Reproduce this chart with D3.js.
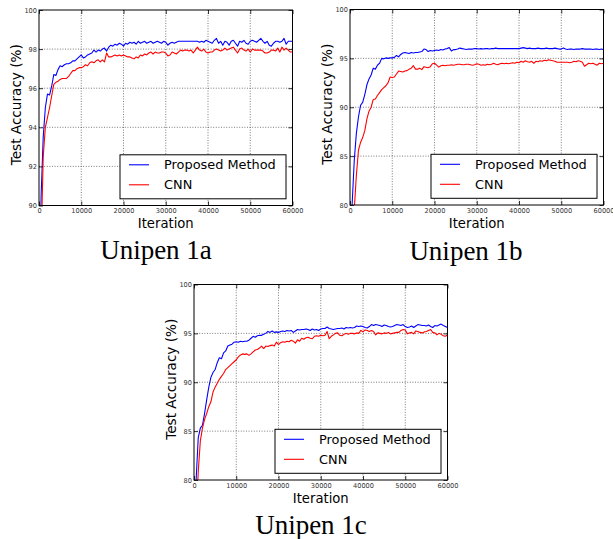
<!DOCTYPE html>
<html>
<head>
<meta charset="utf-8">
<script src="https://cdn.jsdelivr.net/npm/d3@7"></script>
<style>
  body { margin: 0; background: #fff; }
  svg { display: block; }
</style>
</head>
<body>
<script>
// iterations sampled every 500 steps
const iterations = d3.range(0, 60001, 500);

// Unipen 1a
const proposed1a = [84,90.5,93.5,95.0,95.7,95.65,96.1,96.7,96.65,96.95,97.15,97.1,97.2,97.25,97.25,97.3,97.4,97.4,97.5,97.6,
  97.7,97.55,97.6,97.7,97.75,97.8,97.95,97.85,97.95,97.9,98.0,98.05,97.9,98.1,98.2,98.15,98.25,98.2,98.3,98.25,
  98.15,98.3,98.25,98.35,98.3,98.35,98.25,98.4,98.3,98.35,98.4,98.3,98.35,98.4,98.3,98.35,98.4,98.35,98.3,98.4,
  98.35,98.2,98.3,98.35,98.3,98.35,98.4,98.4,98.4,98.4,98.4,98.4,98.4,98.4,98.4,98.4,98.35,98.4,98.35,98.45,
  98.4,98.35,98.3,98.45,98.55,98.3,98.4,98.2,98.4,98.35,98.2,98.4,98.45,98.3,98.15,98.4,98.35,98.45,98.3,98.25,
  98.4,98.45,98.4,98.35,98.45,98.55,98.4,98.3,98.4,98.2,98.15,98.3,98.4,98.4,98.35,98.4,98.55,98.25,98.4,98.4,98.4];
const cnn1a = [80,88,92.5,94.0,94.5,95.0,95.6,96.2,96.3,96.35,96.45,96.5,96.5,96.5,96.6,96.75,96.9,96.9,97.0,97.05,
  97.05,97.1,97.2,97.15,97.3,97.35,97.3,97.4,97.45,97.35,97.45,97.35,97.8,97.6,97.6,97.65,97.7,97.65,97.7,97.65,
  97.7,97.65,97.6,97.6,97.55,97.5,97.6,97.55,97.7,97.65,97.75,97.7,97.8,97.85,97.75,97.85,97.8,97.8,97.85,97.85,
  97.8,97.65,97.7,97.85,97.8,97.75,97.85,97.95,97.9,97.95,97.95,97.9,97.95,97.8,97.95,98.1,97.95,97.9,98.0,97.85,
  97.8,97.85,97.85,97.95,98.0,97.95,97.9,97.95,98.05,97.95,98.0,98.05,98.1,97.95,97.8,98.0,98.05,97.95,97.9,98.0,
  97.85,98.0,97.95,97.95,97.95,97.95,97.9,97.8,97.8,97.85,97.95,97.95,97.9,98.05,97.85,98.1,97.95,98.05,97.95,97.85,97.85];

// Unipen 1b
const proposed1b = [72,80,84.5,87.3,89.0,90.2,90.5,91.3,92.3,92.9,93.3,94.0,93.9,94.3,94.5,95.0,94.95,95.05,95.0,95.05,
  95.05,95.1,95.3,95.15,95.4,95.55,95.6,95.55,95.5,95.6,95.55,95.6,95.6,95.65,95.7,95.95,95.9,95.7,95.8,95.75,
  95.8,95.85,95.8,95.9,95.85,95.95,96.0,96.1,95.75,95.9,95.9,95.95,96.05,96.0,95.95,95.9,95.95,95.95,95.95,96.0,
  96.0,95.95,96.0,95.95,96.0,96.0,95.95,96.0,96.0,96.05,96.0,96.0,96.0,96.0,96.0,96.0,96.0,96.0,96.0,96.0,
  96.0,96.05,96.1,96.05,96.0,96.05,96.0,96.0,96.0,96.05,96.0,96.0,96.0,96.05,96.0,96.0,96.0,96.05,96.0,95.95,
  95.95,96.05,95.95,95.9,95.95,95.95,95.9,95.95,95.95,95.95,96.0,95.95,95.95,95.95,95.95,95.9,95.95,95.95,95.9,95.95,95.9];
const cnn1b = [70,74,79.5,83,85.6,86.4,86.9,87.6,88.8,89.6,90.0,90.8,90.85,91.2,91.5,91.8,92.0,92.2,92.5,93.1,
  93.05,93.1,93.4,93.7,93.65,93.6,93.7,93.75,93.9,94.0,94.25,93.9,93.9,94.0,93.85,94.15,94.1,94.05,94.15,94.45,
  94.5,94.3,94.1,94.25,94.3,94.25,94.3,94.3,94.35,94.3,94.35,94.4,94.4,94.35,94.35,94.4,94.4,94.35,94.3,94.35,
  94.45,94.4,94.3,94.35,94.3,94.4,94.35,94.4,94.5,94.4,94.35,94.45,94.5,94.45,94.5,94.45,94.5,94.55,94.5,94.6,
  94.55,94.7,94.6,94.75,94.65,94.6,94.7,94.5,94.7,94.65,94.75,94.7,94.8,94.75,94.85,94.8,94.75,94.7,94.6,94.6,
  94.6,94.6,94.6,94.6,94.55,94.6,94.7,94.65,94.75,94.7,94.6,94.2,94.35,94.5,94.45,94.5,94.4,94.3,94.5,94.45,94.5];

// Unipen 1c
const proposed1c = [74,80,84.3,85.3,85.6,86.8,88.2,89.5,90.5,91.0,91.3,92.0,92.5,92.4,93.0,93.2,93.7,93.8,93.9,94.1,
  94.15,94.1,94.2,94.15,94.2,94.2,94.3,94.5,94.7,94.6,94.75,94.8,94.8,94.9,95.0,95.2,95.1,95.25,95.1,95.15,
  95.1,95.2,95.25,95.2,95.3,95.25,95.3,95.1,95.25,95.4,95.35,95.4,95.4,95.45,95.4,95.3,95.45,95.35,95.4,95.3,
  95.45,95.5,95.5,95.65,95.5,95.45,95.4,95.45,95.5,95.5,95.55,95.45,95.6,95.55,95.6,95.55,95.6,95.75,95.7,95.75,
  95.7,95.6,95.55,95.7,95.9,95.8,95.9,95.85,95.8,95.7,95.85,95.8,95.7,95.65,95.7,95.8,95.9,95.85,95.8,95.9,
  95.7,95.6,95.65,95.75,95.6,95.75,95.9,95.85,95.8,95.8,95.75,95.85,95.7,95.6,95.8,95.75,95.85,95.95,95.8,95.7,95.6];
const cnn1c = [72,76,80.8,84,85.3,86.2,86.8,87.5,88.0,89.0,89.5,89.9,90.3,90.6,90.9,91.3,91.5,91.7,91.9,92.1,
  92.3,92.6,92.8,92.9,92.85,92.9,92.75,92.9,93.1,93.3,93.35,93.5,93.7,93.45,93.7,93.65,93.75,93.8,93.7,94.1,
  93.85,94.05,94.15,94.1,94.2,94.15,94.3,94.2,94.0,94.35,94.2,94.5,94.4,94.55,94.6,94.5,94.45,94.7,94.75,94.7,
  94.8,94.75,94.8,95.2,94.45,94.7,94.85,95.0,95.05,94.8,94.75,94.9,95.0,94.9,95.0,95.0,94.95,95.05,95.0,95.3,
  95.15,95.35,95.3,95.2,95.3,95.2,94.85,95.05,95.0,94.95,95.05,95.0,95.1,94.95,95.0,95.05,95.1,95.1,95.3,95.4,
  95.35,94.95,95.05,95.1,94.95,95.25,95.2,95.1,95.05,95.15,95.2,95.3,95.4,95.1,95.05,94.85,95.0,94.9,94.75,94.7,94.85];

const xTicks = [0, 10000, 20000, 30000, 40000, 50000, 60000];
const yTicks1a = [90, 92, 94, 96, 98, 100];
const yTicks1bc = [80, 85, 90, 95, 100];
const seriesNames = ["Proposed Method", "CNN"];
const seriesColors = ["#0000ff", "#ff0000"];

const panels = [
  { caption: "Unipen 1a", left: 39, top: 10, yDomain: [90, 100], yTicks: yTicks1a,
    series: [proposed1a, cnn1a], capX: 156, capY: 259 },
  { caption: "Unipen 1b", left: 350, top: 9.5, yDomain: [80, 100], yTicks: yTicks1bc,
    series: [proposed1b, cnn1b], capX: 466, capY: 260 },
  { caption: "Unipen 1c", left: 194, top: 284.5, yDomain: [80, 100], yTicks: yTicks1bc,
    series: [proposed1c, cnn1c], capX: 311, capY: 534 }
];

const W = 613, H = 539;
const pw = 253.5, ph = 195.5;

const svg = d3.select("body").append("svg")
  .attr("width", W).attr("height", H);

panels.forEach((p, pi) => {
  const g = svg.append("g").attr("transform", `translate(${p.left},${p.top})`);
  const x = d3.scaleLinear().domain([0, 60000]).range([0, pw]);
  const y = d3.scaleLinear().domain(p.yDomain).range([ph, 0]);

  g.append("clipPath").attr("id", "clip" + pi)
    .append("rect").attr("width", pw).attr("height", ph);

  // grille pointillée
  g.append("g").selectAll("line").data(xTicks.slice(1, -1)).join("line")
    .attr("x1", d => x(d)).attr("x2", d => x(d)).attr("y1", 0).attr("y2", ph)
    .attr("stroke", "#444").attr("stroke-width", 0.7).attr("stroke-dasharray", "1,1.6");
  g.append("g").selectAll("line").data(p.yTicks.slice(1, -1)).join("line")
    .attr("y1", d => y(d)).attr("y2", d => y(d)).attr("x1", 0).attr("x2", pw)
    .attr("stroke", "#444").attr("stroke-width", 0.7).attr("stroke-dasharray", "1,1.6");

  // courbes
  const line = d3.line().x((d, i) => x(iterations[i])).y(d => y(d));
  p.series.forEach((s, si) => {
    g.append("path").datum(s)
      .attr("clip-path", `url(#clip${pi})`)
      .attr("fill", "none").attr("stroke", seriesColors[si])
      .attr("stroke-width", 1.1).attr("stroke-linejoin", "round")
      .attr("d", line);
  });

  // axes (ticks vers l'intérieur)
  const tickFont = g => g.selectAll("text")
    .attr("font-family", "DejaVu Sans").attr("font-size", 6.6).attr("fill", "#333");
  const xa = g.append("g").attr("transform", `translate(0,${ph})`)
    .call(d3.axisBottom(x).tickValues(xTicks).tickFormat(d3.format("d")).tickSizeInner(-4).tickSizeOuter(0).tickPadding(3.2));
  xa.call(tickFont);
  const ya = g.append("g")
    .call(d3.axisLeft(y).tickValues(p.yTicks).tickFormat(d3.format("d")).tickSizeInner(-4).tickSizeOuter(0).tickPadding(2));
  ya.call(tickFont);
  g.append("g").attr("transform", `translate(${pw},0)`)
    .call(d3.axisRight(y).tickValues(p.yTicks).tickFormat("").tickSizeInner(-4).tickSizeOuter(0));
  g.append("g")
    .call(d3.axisTop(x).tickValues(xTicks).tickFormat("").tickSizeInner(-4).tickSizeOuter(0));
  g.selectAll(".domain").remove();
  g.selectAll(".tick line").attr("stroke", "#000").attr("stroke-width", 0.8);

  g.append("rect").attr("width", pw).attr("height", ph)
    .attr("fill", "none").attr("stroke", "#000").attr("stroke-width", 1);

  // légende
  const lg = g.append("g").attr("transform", `translate(${pw - 6.5 - 166},${ph - 6.7 - 44})`);
  lg.append("rect").attr("width", 166).attr("height", 44)
    .attr("fill", "#fff").attr("stroke", "#000").attr("stroke-width", 1);
  seriesNames.forEach((n, i) => {
    const yy = 10 + i * 20;
    lg.append("line").attr("x1", 9).attr("x2", 29).attr("y1", yy).attr("y2", yy)
      .attr("stroke", seriesColors[i]).attr("stroke-width", 1.1);
    lg.append("text").attr("x", 44).attr("y", yy).attr("dy", "0.36em")
      .attr("font-family", "DejaVu Sans").attr("font-size", 12.9).attr("fill", "#000")
      .text(n);
  });

  // titres des axes
  g.append("text").attr("x", pw / 2).attr("y", ph + 22.5)
    .attr("text-anchor", "middle").attr("font-family", "DejaVu Sans")
    .attr("font-size", 13.2).text("Iteration");
  g.append("text")
    .attr("transform", `translate(-18,${ph / 2 - 3}) rotate(-90)`)
    .attr("text-anchor", "middle").attr("font-family", "DejaVu Sans")
    .attr("font-size", 13.6).text("Test Accuracy (%)");

  // légende de la figure
  svg.append("text").attr("x", p.capX).attr("y", p.capY)
    .attr("text-anchor", "middle").attr("font-family", "Liberation Serif")
    .attr("font-size", 27).attr("fill", "#000").text(p.caption);
});
</script>
</body>
</html>
